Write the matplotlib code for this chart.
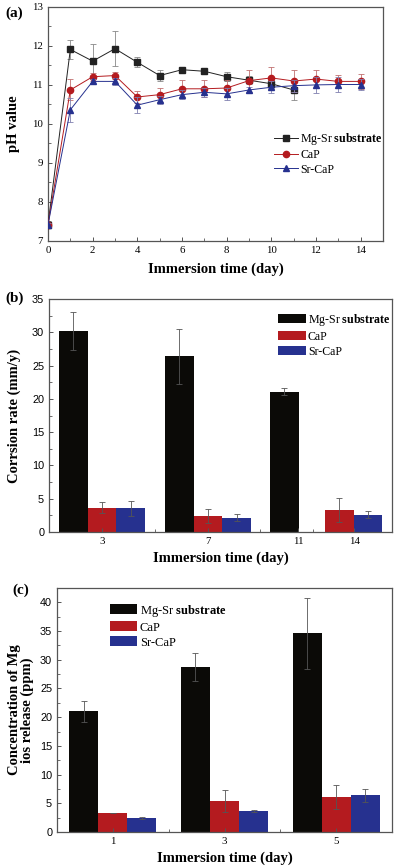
import numpy as np
import matplotlib
matplotlib.use('Agg')
import matplotlib.pyplot as plt

plt.rcParams['font.family'] = 'Liberation Serif'
plt.rcParams['mathtext.fontset'] = 'custom'
plt.rcParams['mathtext.rm'] = 'Liberation Serif'
plt.rcParams['mathtext.bf'] = 'Liberation Serif:bold'

# ---- data: (a) pH value
days = [0, 1, 2, 3, 4, 5, 6, 7, 8, 9, 10, 11, 12, 13, 14]
days_mg = days[:12]
ph_mg = [7.41, 11.91, 11.61, 11.93, 11.58, 11.24, 11.39, 11.35, 11.21, 11.12, 11.03, 10.87]
ph_mg_err = [0.05, 0.25, 0.45, 0.45, 0.13, 0.15, 0.05, 0.05, 0.12, 0.1, 0.1, 0.25]
ph_cap = [7.41, 10.87, 11.21, 11.24, 10.69, 10.75, 10.9, 10.9, 10.92, 11.11, 11.18, 11.1, 11.15, 11.09, 11.09]
ph_cap_err = [0.05, 0.27, 0.1, 0.1, 0.15, 0.18, 0.22, 0.22, 0.2, 0.28, 0.28, 0.27, 0.22, 0.16, 0.2]
ph_sr = [7.41, 10.36, 11.09, 11.09, 10.48, 10.62, 10.75, 10.81, 10.77, 10.87, 10.94, 10.98, 11.0, 11.01, 11.01]
ph_sr_err = [0.05, 0.3, 0.05, 0.08, 0.2, 0.1, 0.12, 0.12, 0.15, 0.08, 0.15, 0.15, 0.2, 0.2, 0.15]

# ---- data: (b) corrosion rate
corr_days = ['3', '7', '11', '14']
corr_mg = [30.2, 26.4, 21.06, np.nan]
corr_mg_err = [2.8, 4.1, 0.5, np.nan]
corr_cap = [3.65, 2.4, np.nan, 3.24]
corr_cap_err = [0.8, 1.1, np.nan, 1.8]
corr_sr = [3.55, 2.15, np.nan, 2.6]
corr_sr_err = [1.1, 0.5, np.nan, 0.55]

# ---- data: (c) Mg ion release
rel_days = [1, 3, 5]
rel_mg = [21.0, 28.7, 34.6]
rel_mg_err = [1.85, 2.4, 6.2]
rel_cap = [3.32, 5.36, 6.1]
rel_cap_err = [0.05, 1.9, 2.1]
rel_sr = [2.45, 3.6, 6.4]
rel_sr_err = [0.2, 0.15, 1.1]

c_black = '#0b0a07'
c_red = '#b41b1f'
c_blue = '#26318f'
spine_c = '#555555'
sub_label = 'Mg-Sr $\\mathbf{substrate}$'

fig = plt.figure(figsize=(3.95, 8.67), dpi=100)


def style_axes(ax):
    for s in ax.spines.values():
        s.set_color(spine_c)
        s.set_linewidth(0.9)
    ax.tick_params(direction='in', length=3, width=0.7, color=spine_c, labelsize=7.8)
    ax.tick_params(which='minor', direction='in', length=2, width=0.6, color=spine_c)


# ================= (a)
ax1 = fig.add_axes([48 / 395, 1 - 240.7 / 867, 335 / 395, 233.7 / 867])
e1 = ax1.errorbar(days_mg, ph_mg, yerr=ph_mg_err, color='#222222', marker='s', ms=4.5,
                  lw=0.7, ecolor='#888888', elinewidth=0.6, capsize=2, capthick=0.6,
                  zorder=3)
e2 = ax1.errorbar(days, ph_cap, yerr=ph_cap_err, color=c_red, marker='o', ms=4.5,
                  lw=0.7, ecolor='#c07070', elinewidth=0.6, capsize=2, capthick=0.6,
                  zorder=4)
e3 = ax1.errorbar(days, ph_sr, yerr=ph_sr_err, color=c_blue, marker='^', ms=4.5,
                  lw=0.7, ecolor='#8080b0', elinewidth=0.6, capsize=2, capthick=0.6,
                  zorder=5)
ax1.set_xlim(0, 15)
ax1.set_ylim(7, 13)
ax1.set_xticks(range(0, 15, 2))
ax1.set_xticks(range(1, 16, 2), minor=True)
ax1.set_yticks(range(7, 14))
ax1.set_yticks(np.arange(7.5, 13, 1), minor=True)
style_axes(ax1)
ax1.set_xlabel('Immersion time (day)', fontsize=10.5, fontweight='bold', labelpad=6)
ax1.set_ylabel('pH value', fontsize=10.5, fontweight='bold', labelpad=9)
ax1.legend([e1[0], e2[0], e3[0]], [sub_label, 'CaP', 'Sr-CaP'], loc='upper left',
           bbox_to_anchor=(0.675, 0.47), frameon=False,
           fontsize=8.6, borderpad=0, handlelength=2.0, handletextpad=0.2,
           labelspacing=0.2, borderaxespad=0)
fig.text(5 / 395, 1 - 13 / 867, '(a)', fontsize=11, fontweight='bold', va='center')

# ================= (b)
ax2 = fig.add_axes([49 / 395, 1 - 532 / 867, 343 / 395, 233 / 867])
grp_b = [0.5, 1.5, 2.49, 2.74]
bw = 0.27
ekw = dict(ecolor='#555555', elinewidth=0.6, capsize=2.5, capthick=0.6)
ax2.bar([g - bw for g in grp_b], corr_mg, bw, yerr=corr_mg_err, color=c_black,
        label=sub_label, error_kw=ekw)
ax2.bar(grp_b, corr_cap, bw, yerr=corr_cap_err, color=c_red, label='CaP', error_kw=ekw)
ax2.bar([g + bw for g in grp_b], corr_sr, bw, yerr=corr_sr_err, color=c_blue,
        label='Sr-CaP', error_kw=ekw)
ax2.set_xlim(0, 3.236)
ax2.set_ylim(0, 35)
ax2.set_xticks([0.5, 1.5, 2.35, 2.88])
ax2.set_xticklabels(corr_days)
ax2.set_xticks([1.0, 1.99, 2.49], minor=True)
ax2.set_yticks(range(0, 36, 5))
ax2.set_yticks(np.arange(2.5, 35, 5), minor=True)
style_axes(ax2)
for t in ax2.get_yticklabels():
    t.set_fontfamily('Liberation Sans')
ax2.set_xlabel('Immersion time (day)', fontsize=10.5, fontweight='bold', labelpad=4)
ax2.set_ylabel('Corrsion rate (mm/y)', fontsize=10.5, fontweight='bold', labelpad=8)
ax2.legend(loc='upper left', bbox_to_anchor=(0.668, 0.945), frameon=False,
           fontsize=8.6, borderpad=0, handlelength=2.3, handleheight=0.85,
           handletextpad=0.2, labelspacing=0.25, borderaxespad=0)
fig.text(5 / 395, 1 - 298 / 867, '(b)', fontsize=11, fontweight='bold', va='center')

# ================= (c)
ax3 = fig.add_axes([57 / 395, 1 - 832 / 867, 335 / 395, 244 / 867])
bw3 = 0.52
ax3.bar([d - bw3 for d in rel_days], rel_mg, bw3, yerr=rel_mg_err, color=c_black,
        label=sub_label, error_kw=ekw)
ax3.bar(rel_days, rel_cap, bw3, yerr=rel_cap_err, color=c_red, label='CaP', error_kw=ekw)
ax3.bar([d + bw3 for d in rel_days], rel_sr, bw3, yerr=rel_sr_err, color=c_blue,
        label='Sr-CaP', error_kw=ekw)
ax3.set_xlim(0, 6)
ax3.set_ylim(0, 42.5)
ax3.set_xticks(rel_days)
ax3.set_xticks([2, 4], minor=True)
ax3.set_yticks(range(0, 41, 5))
ax3.set_yticks(np.arange(2.5, 42, 5), minor=True)
style_axes(ax3)
for t in ax3.get_yticklabels():
    t.set_fontfamily('Liberation Sans')
ax3.set_xlabel('Immersion time (day)', fontsize=10.5, fontweight='bold', labelpad=4)
ax3.set_ylabel('Concentration of Mg\nios release (ppm)', fontsize=10.5,
               fontweight='bold', labelpad=4, linespacing=1.0)
ax3.legend(loc='upper left', bbox_to_anchor=(0.158, 0.94), frameon=False,
           fontsize=9, borderpad=0, handlelength=2.2, handleheight=0.85,
           handletextpad=0.2, labelspacing=0.22, borderaxespad=0)
fig.text(12 / 395, 1 - 590 / 867, '(c)', fontsize=11, fontweight='bold', va='center')

fig.savefig('out.png', dpi=100)
